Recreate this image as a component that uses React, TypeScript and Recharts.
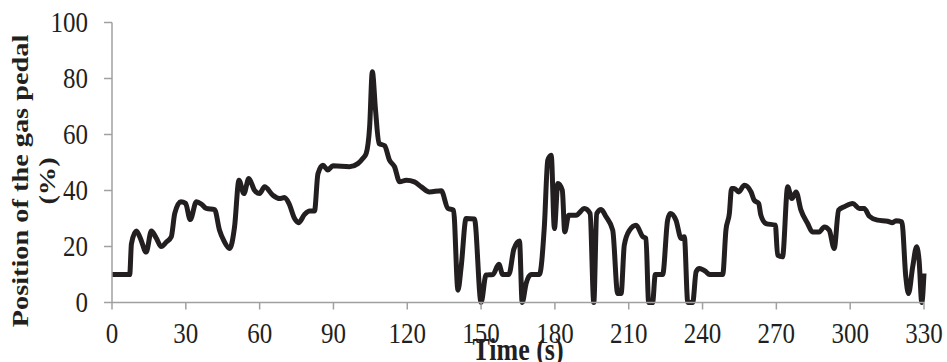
import { LineChart, XAxis, YAxis, Line } from "recharts";

// time (s) and pedal position (%)
const times = [
  0, 7.2, 7.9, 9.9, 11.5, 13.9, 16, 18, 20, 22, 24.1, 25.5, 28, 29.9, 31.8, 34.3, 36.5, 38.3, 41.7, 43.7,
  45.5, 47.8, 49.8, 51.6, 53.6, 55.6, 57.9, 60, 62, 65.4, 68.1, 70.1, 71.9, 74.2, 75.8, 78.3, 80.3, 82.3,
  83.7, 85.7, 87.7, 89.8, 96.5, 99.9, 102, 103.3, 104.7, 105.8, 107.1, 108.5, 110.8, 112.8, 114.8, 116.9,
  119.6, 122.9, 125.7, 129, 133.8, 136.5, 138.8, 140.6, 141.9, 143.9, 147.3, 150, 152, 154.8, 157.2, 158.8,
  161.3, 163.3, 165.6, 166.7, 168.3, 170.3, 173.7, 175.7, 177.1, 178.5, 179.8, 181.2, 183, 184, 185.6,
  188.6, 192, 194.3, 195.8, 197, 198.8, 200.8, 203.5, 205.5, 206.9, 208.2, 210.3, 213, 215.7, 217, 218.1,
  219.7, 220.8, 223.8, 225.8, 226.9, 229.2, 231.3, 232.6, 234, 236, 237.4, 238.7, 241.4, 242.8, 248.2,
  249.5, 250.9, 251.8, 252.9, 254.7, 257, 259.7, 261, 262.8, 263.7, 265.8, 269.6, 270.5, 272.5, 274.6,
  276.3, 278, 280, 282.7, 284.7, 287.4, 289.5, 291.5, 293.5, 295.3, 297.6, 301, 303.7, 305.7, 307.8,
  311.1, 315.2, 317.2, 318.6, 321, 322.6, 323.7, 325.4, 327, 328, 329.1, 330,
];
const pedal = [
  10, 10, 21, 25.5, 23, 18, 25.5, 23, 20, 21.5, 23.5, 31.8, 36, 35.4, 29.6, 36, 35, 33.6, 33.2, 25.8,
  22, 19.3, 27, 43.7, 38.9, 44.3, 40.1, 38.9, 41.3, 38.3, 37.1, 37.5, 35.4, 30, 28.5, 31.5, 32.7, 32.7,
  46, 49, 47.3, 48.8, 48.5, 49.6, 51.5, 53.2, 62.7, 82.4, 68.7, 56.8, 56, 50.8, 48.5, 43.1,
  43.7, 43.1, 41.3, 39.5, 39.9, 33.6, 33, 4.4, 12.7, 30, 29.8, 0, 9.8, 10, 13.7, 10,
  10, 19, 22, 0, 6.8, 10, 10, 27, 50.8, 52.6, 26.4, 42.5, 40.1, 25.2, 31.2,
  31.2, 33.6, 31.8, 0, 31.8, 33.2, 30.6, 25.8, 3.2, 3.2, 20.5, 25.8, 27.6, 23.5, 22.9, 0,
  0, 10, 10, 29.4, 31.8, 29.4, 22.9, 23.5, 0, 0, 11, 12.1, 11, 10, 10,
  25.8, 31.8, 40.7, 40.7, 39.5, 41.9, 39.5, 36.5, 35.4, 31.2, 28.2, 27.6, 16.9, 16.3, 41.3,
  37.1, 39.5, 33, 28.2, 25.2, 25.2, 27, 25.8, 19.3, 33, 34.2, 35.4, 33.6, 33.6, 30.8,
  29.4, 29, 28.5, 29.2, 28.8, 9.2, 3.2, 12.7, 19.9, 15.1, 0, 10.4,
];
const xTicks = [0, 30, 60, 90, 120, 150, 180, 210, 240, 270, 300, 330];
const yTicks = [0, 20, 40, 60, 80, 100];

const data = times.map((t, i) => ({ t, v: pedal[i] }));

const FONT = "'Liberation Serif', 'Times New Roman', serif";
const AXIS = "#A0A0A0";
const STRETCH = 1.18;

const XTick = (props: any) => {
  const { x, y, payload } = props;
  return (
    <text
      transform={`translate(${x},${y}) scale(1,${STRETCH})`}
      y={28}
      textAnchor="middle"
      fontFamily={FONT}
      fontSize={25}
      fill="#231F20"
    >
      {payload.value}
    </text>
  );
};

const YTick = (props: any) => {
  const { x, y, payload } = props;
  return (
    <text
      transform={`translate(${x},${y}) scale(1,${STRETCH})`}
      y={8}
      textAnchor="end"
      fontFamily={FONT}
      fontSize={25}
      fill="#231F20"
    >
      {payload.value}
    </text>
  );
};

const YTitle = () => (
  <g fontFamily={FONT} fontSize={24} fontWeight="bold" fill="#231F20" textAnchor="middle">
    <text transform={`translate(28,181) rotate(-90) scale(${STRETCH},1)`}>Position of the gas pedal</text>
    <text transform={`translate(55,181) rotate(-90) scale(${STRETCH},1)`}>(%)</text>
  </g>
);

const XTitle = () => (
  <text
    transform={`translate(518,360) scale(1,${STRETCH})`}
    textAnchor="middle"
    fontFamily={FONT}
    fontSize={26}
    fontWeight="bold"
    fill="#231F20"
  >
    Time (s)
  </text>
);

export default function App() {
  return (
    <div style={{ position: "absolute", left: 0, top: 0, background: "#fff" }}>
      <LineChart width={947} height={362} data={data} margin={{ top: 22.5, right: 23, bottom: 0, left: 0 }}>
        <XAxis
          dataKey="t"
          type="number"
          domain={[0, 330]}
          ticks={xTicks}
          height={59.5}
          stroke={AXIS}
          strokeWidth={1.5}
          tickSize={7}
          tickMargin={0}
          tick={<XTick />}
          label={{ content: <XTitle /> }}
        />
        <YAxis
          type="number"
          domain={[0, 100]}
          ticks={yTicks}
          width={112}
          stroke={AXIS}
          strokeWidth={1.5}
          tickSize={8}
          tickMargin={16}
          tick={<YTick />}
          label={{ content: <YTitle /> }}
        />
        <Line
          type="monotone"
          dataKey="v"
          stroke="#231F20"
          strokeWidth={5}
          dot={false}
          isAnimationActive={false}
        />
      </LineChart>
    </div>
  );
}
